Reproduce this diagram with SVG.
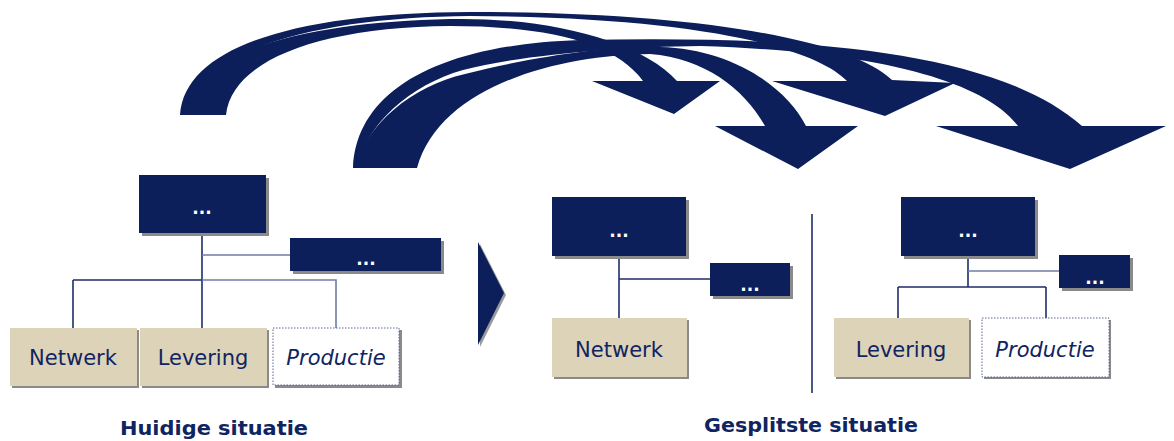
<svg xmlns="http://www.w3.org/2000/svg" width="1174" height="441" viewBox="0 0 1174 441">
<style>
.arr{fill:#0c1f5b;stroke:none}
.dk{fill:#0c1f5b}
.sh{fill:#8a8a8a}
.bg{fill:#ddd3b8}
.dot{fill:#ffffff;stroke:#5a6791;stroke-width:1;stroke-dasharray:1.5 1.5}
.ln{stroke:#1e2d6a;stroke-width:1.6;fill:none}
.lt{stroke:#6f7ca6;stroke-width:1.6;fill:none}
.tx{font-family:"DejaVu Sans","Liberation Sans",sans-serif;font-size:21px;fill:#0f2460;text-anchor:middle}
.it{font-style:italic}
.el{font-family:"DejaVu Sans","Liberation Sans",sans-serif;font-size:17px;font-weight:bold;fill:#ffffff;text-anchor:middle}
.lb{font-family:"DejaVu Sans","Liberation Sans",sans-serif;font-size:20px;font-weight:bold;fill:#0f2460;text-anchor:middle}
</style>
<rect width="1174" height="441" fill="#ffffff"/>
<g id="arrows">
<path class="arr" d="M356,168 C365,125 412,86 465,74 C540,55 610,46 660,47 C730,49 785,85 806,126 L858,126 L798,169 L715,126 L765,126 C745,90 705,58 650,54 C560,55 440,85 417,168 Z"/>
<path class="arr" d="M353,168 C356,95 430,45 580,40 C780,36 990,45 1082,126 L1166,126 L1070,169 L936,126 L1018,126 C990,88 900,52 700,46 C620,47 520,55 463,70 C410,85 365,125 358,168 Z"/>
<path class="arr" d="M184,115 C190,50 310,22 450,19 C545,17 640,40 677,81 L720,81 L674,114 L592,81 L643,81 C615,42 545,26 450,26 C320,27 232,60 226,115 Z"/>
<path class="arr" d="M180,115 C185,45 300,13 470,12 C700,12 850,40 892,80 L955,83 L885,116 L772,81 L847,81 C815,48 700,17 470,16 C330,17 200,45 185,115 Z"/>
</g>
<g id="connectors">
<path class="ln" d="M202,233 V280 M73,280 H202 M73,280 V328 M202,280 V328"/>
<path class="lt" d="M202,255 H290 M202,280 H336 V328"/>
<path class="ln" d="M619,256 V318 M619,279 H710"/>
<path class="ln" d="M968,256 V287 M898,287 H1046 M898,287 V318 M1046,287 V318"/>
<path class="lt" d="M968,271 H1059"/>
<path class="ln" d="M812,214 V393"/>
</g>
<g id="switch">
<polygon points="480,244 506,295 480,347" fill="#9a9a9a"/>
<polygon class="dk" points="478,242 504,293 478,345"/>
</g>
<g id="left-top"><rect class="sh" x="142" y="178" width="127" height="58"/><rect class="dk" x="139" y="175" width="127" height="58"/><text class="el" x="202" y="214">...</text></g>
<g id="left-staff"><rect class="sh" x="293" y="241" width="151" height="33"/><rect class="dk" x="290" y="238" width="151" height="33"/><text class="el" x="366" y="265">...</text></g>
<g id="left-netwerk"><rect class="sh" x="12" y="330" width="127" height="58"/><rect class="bg" x="10" y="328" width="127" height="58"/><text class="tx" x="73" y="365">Netwerk</text></g>
<g id="left-levering"><rect class="sh" x="142" y="330" width="127" height="58"/><rect class="bg" x="140" y="328" width="127" height="58"/><text class="tx" x="203" y="365">Levering</text></g>
<g id="left-productie"><rect class="sh" x="275" y="330" width="127" height="58"/><rect class="dot" x="273" y="328" width="126" height="57"/><text class="tx it" x="336" y="365">Productie</text></g>
<g id="mid-top"><rect class="sh" x="555" y="200" width="134" height="59"/><rect class="dk" x="552" y="197" width="134" height="59"/><text class="el" x="619" y="237">...</text></g>
<g id="mid-staff"><rect class="sh" x="713" y="266" width="80" height="33"/><rect class="dk" x="710" y="263" width="80" height="33"/><text class="el" x="750" y="291">...</text></g>
<g id="mid-netwerk"><rect class="sh" x="554" y="320" width="135" height="59"/><rect class="bg" x="552" y="318" width="135" height="59"/><text class="tx" x="619" y="357">Netwerk</text></g>
<g id="right-top"><rect class="sh" x="904" y="200" width="134" height="59"/><rect class="dk" x="901" y="197" width="134" height="59"/><text class="el" x="968" y="237">...</text></g>
<g id="right-staff"><rect class="sh" x="1062" y="258" width="71" height="33"/><rect class="dk" x="1059" y="255" width="71" height="33"/><text class="el" x="1095" y="284">...</text></g>
<g id="right-levering"><rect class="sh" x="836" y="320" width="135" height="59"/><rect class="bg" x="834" y="318" width="135" height="59"/><text class="tx" x="901" y="357">Levering</text></g>
<g id="right-productie"><rect class="sh" x="984" y="320" width="127" height="59"/><rect class="dot" x="982" y="318" width="127" height="59"/><text class="tx it" x="1045" y="357">Productie</text></g>
<g id="labels">
<text class="lb" x="214" y="435" textLength="188" lengthAdjust="spacingAndGlyphs">Huidige situatie</text>
<text class="lb" x="811" y="432" textLength="214" lengthAdjust="spacingAndGlyphs">Gesplitste situatie</text>
</g>
</svg>
